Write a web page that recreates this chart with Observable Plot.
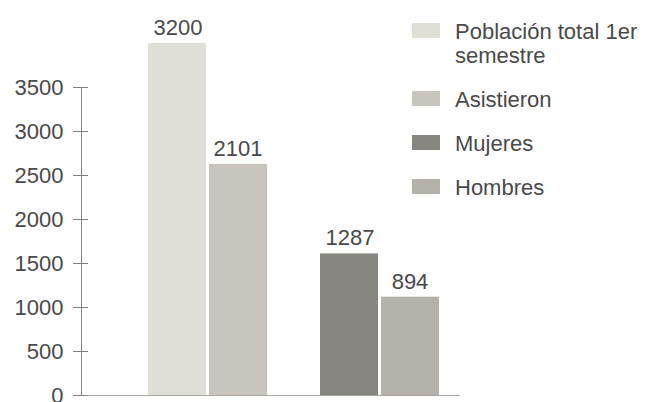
<!DOCTYPE html>
<html>
<head>
<meta charset="utf-8">
<script src="https://cdn.jsdelivr.net/npm/d3@7"></script>
<script src="https://cdn.jsdelivr.net/npm/@observablehq/plot@0.6"></script>
<style>
  html, body { margin: 0; padding: 0; background: #ffffff; }
  #wrap { position: relative; width: 648px; height: 402px; overflow: hidden; font-family: "Liberation Sans", Arial, Helvetica, sans-serif; }
  #legend { position: absolute; left: 412px; top: 20px; display: flex; flex-direction: column; gap: 20px; }
  .item { display: flex; align-items: flex-start; }
  .sw { width: 28px; height: 15px; margin-top: 3px; flex: none; }
  .lab { margin-left: 15px; width: 192px; font-size: 22px; line-height: 24px; color: #4a4a4a; }
  g[aria-label="y-axis tick"] { stroke: #808080; }
</style>
</head>
<body>
<div id="wrap"><div id="chart"></div><div id="legend"></div></div>
<script>
// ---- data ----
const categories = ["Población total 1er semestre", "Asistieron", "Mujeres", "Hombres"];
const values = [3200, 2101, 1287, 894];
const groups = ["Asistencia", "Asistencia", "Sexo", "Sexo"];
const colors = ["#e0dfd6", "#c7c5be", "#868580", "#b4b2ab"];
const tickValues = [0, 400, 800, 1200, 1600, 2000, 2400, 2800];
const tickLabels = ["0", "500", "1000", "1500", "2000", "2500", "3000", "3500"];

const data = categories.map((c, i) => ({
  category: c, value: values[i], group: groups[i],
  first: groups.indexOf(groups[i]) === i
}));
const firsts = data.filter(d => d.first);
const seconds = data.filter(d => !d.first);

const chart = Plot.plot({
  width: 648,
  height: 402,
  marginLeft: 81,
  marginRight: 188,
  marginTop: 87,
  marginBottom: 7,
  style: { fontFamily: "Liberation Sans, Arial, Helvetica, sans-serif", fontSize: "22px", color: "#4a4a4a", background: "#ffffff" },
  x: { domain: ["Asistencia", "Sexo"], paddingInner: 0.307, paddingOuter: 0.252, align: 0.768, axis: null },
  y: { domain: [0, 2800], axis: null },
  color: { domain: categories, range: colors },
  marks: [
    Plot.barY(firsts, { x: "group", y: "value", fill: "category", insetRight: 61 }),
    Plot.barY(seconds, { x: "group", y: "value", fill: "category", insetLeft: 61 }),
    Plot.text(firsts, { x: "group", y: "value", text: d => String(d.value), dx: -30, dy: -8.5, lineAnchor: "bottom", fill: "#4a4a4a" }),
    Plot.text(seconds, { x: "group", y: "value", text: d => String(d.value), dx: 30, dy: -8.5, lineAnchor: "bottom", fill: "#4a4a4a" }),
    Plot.frame({ anchor: "left", stroke: "#888888" }),
    Plot.ruleY([0], { stroke: "#a8a8a8" }),
    Plot.axisY({
      ticks: tickValues,
      tickFormat: d => tickLabels[tickValues.indexOf(d)],
      tickSize: 15, tickPadding: 10, dx: 7, label: null, fill: "#4a4a4a"
    })
  ]
});
document.getElementById("chart").appendChild(chart);

// legend
const legend = document.getElementById("legend");
categories.forEach((c, i) => {
  const item = document.createElement("div");
  item.className = "item";
  const sw = document.createElement("div");
  sw.className = "sw";
  sw.style.background = colors[i];
  const lab = document.createElement("div");
  lab.className = "lab";
  lab.textContent = c;
  item.appendChild(sw);
  item.appendChild(lab);
  legend.appendChild(item);
});
</script>
</body>
</html>
